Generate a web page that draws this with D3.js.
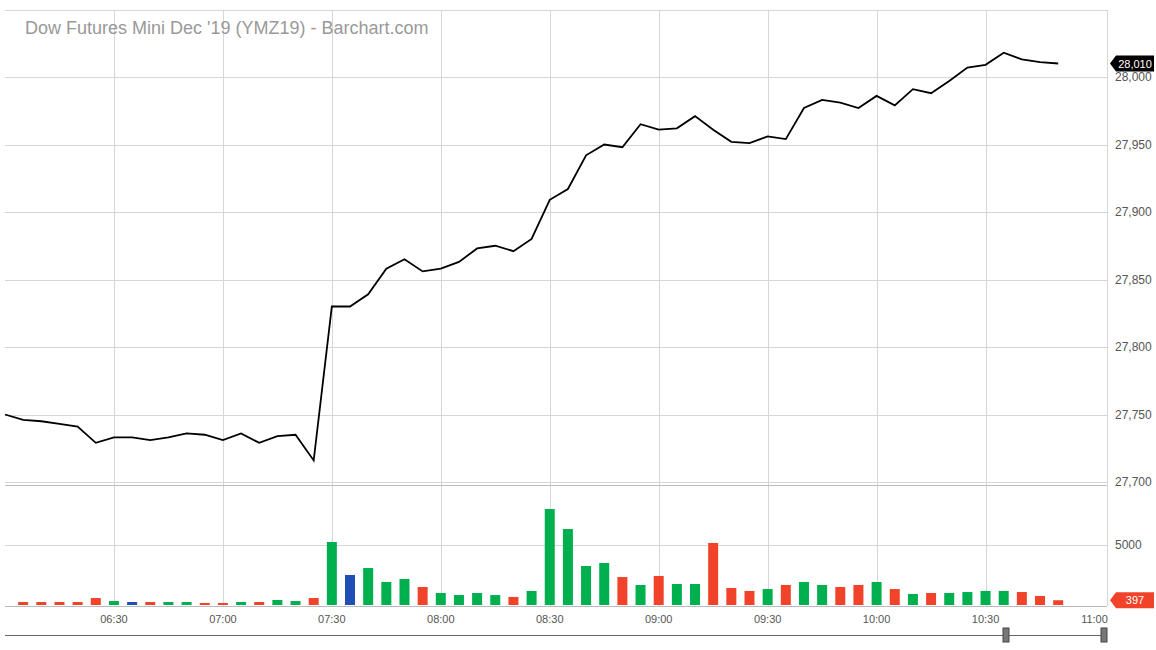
<!DOCTYPE html><html><head><meta charset="utf-8">
<script src="https://cdn.jsdelivr.net/npm/d3@7"></script>
<style>body{margin:0;background:#fff}text{font-family:"Liberation Sans",Arial,sans-serif}</style></head><body>
<svg id="c" width="1156" height="650"></svg>
<script>
const startTime = "06:00";
const prices = [27750,27746,27745,27743,27741,27729,27733,27733,27731,27733,27736,27735,27731,27736,27729,27734,27735,27716,27830,27830,27839,27858,27865,27856,27858,27863,27873,27875,27871,27880,27909,27917,27942,27950,27948,27965,27961,27962,27971,27961,27952,27951,27956,27954,27977,27983,27981,27977,27986,27979,27991,27988,27997,28007,28009,28018,28013,28011,28010];
const volumes = [null,250,250,250,250,580,330,250,250,250,250,170,170,250,250,420,330,580,5250,2500,3080,1920,2170,1500,1000,830,1000,830,670,1170,8000,6330,3250,3500,2330,1670,2420,1750,1750,5170,1420,1170,1330,1670,1920,1670,1500,1670,1920,1330,920,1000,1000,1080,1170,1170,1080,750,397];
const volColors = [null,"r","r","r","r","r","g","b","r","g","g","r","r","g","r","g","g","r","g","b","g","g","g","r","g","g","g","g","r","g","g","g","g","g","r","g","r","g","g","r","r","r","g","r","g","g","r","r","g","r","g","r","g","g","g","g","r","r","r"];
const priceTicks = [27700,27750,27800,27850,27900,27950,28000];
const volTicks = [5000];
const timeTicks = ["06:30","07:00","07:30","08:00","08:30","09:00","09:30","10:00","10:30","11:00"];

const pal = {r:"#f0432a", g:"#00b04f", b:"#1f4fb5"};
const svg = d3.select("#c");
const parse = d3.timeParse("%H:%M");
const t0 = parse(startTime);
const times = prices.map((_, i) => d3.timeMinute.offset(t0, i*5));
const x = d3.scaleTime().domain([t0, parse("11:00")]).range([5, 1094.5]);
const L = 5, R = 1107;
const y = d3.scaleLinear().domain([27700, 28000]).range([482, 77]);
const yv = d3.scaleLinear().domain([0, 5000]).range([605, 545]);

const g = svg.append("g").attr("stroke","#d6d6d6").attr("stroke-width",1);
timeTicks.slice(0,-1).forEach(t => {
  const xx = Math.round(x(parse(t)))+0.5;
  g.append("line").attr("x1",xx).attr("x2",xx).attr("y1",10).attr("y2",606);
});
priceTicks.forEach(p => g.append("line").attr("x1",L).attr("x2",R).attr("y1",Math.round(y(p))+0.5).attr("y2",Math.round(y(p))+0.5));
volTicks.forEach(v => g.append("line").attr("x1",L).attr("x2",R).attr("y1",Math.round(yv(v))+0.5).attr("y2",Math.round(yv(v))+0.5));
g.append("line").attr("x1",L).attr("x2",R).attr("y1",10.5).attr("y2",10.5);
g.append("line").attr("x1",R+0.5).attr("x2",R+0.5).attr("y1",10).attr("y2",606);
svg.append("line").attr("x1",L).attr("x2",R).attr("y1",485.5).attr("y2",485.5).attr("stroke","#bbb");
svg.append("line").attr("x1",L).attr("x2",R).attr("y1",606.5).attr("y2",606.5).attr("stroke","#bbb");

svg.append("g").selectAll("text").data(priceTicks).join("text")
  .attr("x",1115).attr("y",d=>y(d)+4).attr("font-size",12).attr("fill","#555")
  .text(d=>d3.format(",")(d));
svg.append("g").selectAll("text").data(volTicks).join("text")
  .attr("x",1115).attr("y",d=>yv(d)+4).attr("font-size",12).attr("fill","#555").text(d=>d);
svg.append("g").selectAll("text").data(timeTicks).join("text")
  .attr("x",d=>x(parse(d))).attr("y",623).attr("text-anchor","middle").attr("font-size",11).attr("fill","#555").text(d=>d);

svg.append("text").attr("x",25).attr("y",34).attr("font-size",18).attr("fill","#999").text("Dow Futures Mini Dec '19 (YMZ19) - Barchart.com");

svg.append("g").selectAll("rect").data(volumes.map((v,i)=>({v,i,c:volColors[i]})).filter(d=>d.v!=null)).join("rect")
  .attr("x",d=>x(times[d.i])-5).attr("width",10)
  .attr("y",d=>yv(d.v)).attr("height",d=>yv(0)-yv(d.v)).attr("fill",d=>pal[d.c]);

svg.append("path").datum(prices).attr("fill","none").attr("stroke","#000").attr("stroke-width",1.8)
  .attr("d", d3.line().x((d,i)=>x(times[i])).y(d=>y(d)));

function tag(yy, fill, txt, w){
  const gg = svg.append("g").attr("transform",`translate(1110,${yy})`);
  gg.append("path").attr("d",`M0,0 L6,-8 H${w} V8 H6 Z`).attr("fill",fill);
  gg.append("text").attr("x",(w+6)/2).attr("y",4).attr("text-anchor","middle").attr("font-size",11).attr("fill","#fff").text(txt);
}
tag(y(prices[prices.length-1]), "#000", d3.format(",")(prices[prices.length-1]), 44);
tag(yv(volumes[volumes.length-1]), "#f0432a", volumes[volumes.length-1], 44);

svg.append("line").attr("x1",5).attr("x2",1107).attr("y1",635.5).attr("y2",635.5).attr("stroke","#666");
[1006,1104].forEach(xx=>{
  svg.append("rect").attr("x",xx-3).attr("y",628).attr("width",6).attr("height",14).attr("fill","#777").attr("stroke","#444");
});
</script></body></html>
